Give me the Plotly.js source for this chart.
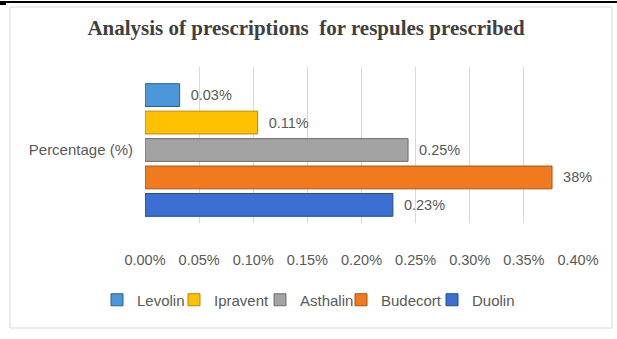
<!DOCTYPE html>
<html>
<head>
<meta charset="utf-8">
<script src="https://cdn.plot.ly/plotly-3.0.1.min.js"></script>
<style>html,body{margin:0;padding:0;background:#fff;}#chart{width:617px;height:339px;}</style>
</head>
<body>
<div id="chart"></div>
<script>
// Data (legend order)
const category = ["Percentage (%)"];
const seriesNames = ["Levolin", "Ipravent", "Asthalin", "Budecort", "Duolin"];
const seriesValues = [0.032, 0.104, 0.243, 0.376, 0.229];
const seriesLabels = ["0.03%", "0.11%", "0.25%", "38%", "0.23%"];
const xTickValues = [0, 0.05, 0.10, 0.15, 0.20, 0.25, 0.30, 0.35, 0.40];
const xTickLabels = ["0.00%", "0.05%", "0.10%", "0.15%", "0.20%", "0.25%", "0.30%", "0.35%", "0.40%"];

// Styling
const fills = ["#4b97da", "#ffc000", "#a3a3a3", "#f07b1f", "#3c6fd2"];
const edges = ["#2a5f95", "#b88a00", "#6e6e6e", "#a8520f", "#234a94"];
const legendLeft = [97, 174, 260, 341, 432]; // px position of each legend entry
const legendIds = ["legend", "legend2", "legend3", "legend4", "legend5"];

const FONT = "Liberation Sans, Arial, sans-serif";

// Plotly draws horizontal grouped bars bottom-up, so add traces in reverse
const traces = [];
for (let i = seriesNames.length - 1; i >= 0; i--) {
  traces.push({
    type: "bar",
    orientation: "h",
    name: seriesNames[i],
    legend: legendIds[i],
    y: category,
    x: [seriesValues[i]],
    text: [seriesLabels[i]],
    texttemplate: "  %{text}",
    textposition: "outside",
    cliponaxis: false,
    textfont: {family: FONT, size: 14.5, color: "#595959"},
    marker: {color: fills[i], line: {color: edges[i], width: 1}},
    hoverinfo: "skip"
  });
}

const L = 145, R = 39, T = 67, B = 116;
const W = 617 - L - R, H = 339 - T - B;
const pxX = x => (x - L) / W;
const pxY = y => (339 - B - y) / H;

const layout = {
  width: 617, height: 339,
  margin: {l: L, r: R, t: T, b: B, pad: 0},
  paper_bgcolor: "#ffffff",
  plot_bgcolor: "#ffffff",
  barmode: "group",
  bargap: 0.12,
  bargroupgap: 0.17,
  showlegend: true,
  title: {
    text: "<b>Analysis of prescriptions  for respules prescribed</b>",
    font: {family: "Liberation Serif, Times New Roman, serif", size: 21, color: "#404040"},
    x: 306/617, xref: "container", xanchor: "center",
    y: 1 - 28/339, yref: "container", yanchor: "middle"
  },
  xaxis: {
    range: [0, 0.40],
    tickvals: xTickValues,
    ticktext: xTickLabels,
    showgrid: true,
    gridcolor: "#d9d9d9",
    gridwidth: 1,
    zeroline: false,
    showline: false,
    ticks: "",
    ticklabelstandoff: 26,
    tickfont: {family: FONT, size: 14.5, color: "#595959"},
    fixedrange: true
  },
  yaxis: {
    type: "category",
    range: [-0.468, 0.532],
    showgrid: false,
    zeroline: false,
    showline: false,
    ticks: "",
    ticklabelstandoff: 11,
    tickfont: {family: FONT, size: 15, color: "#595959"},
    fixedrange: true
  },
  shapes: [
    {type: "rect", xref: "paper", yref: "paper",
     x0: pxX(10), x1: pxX(612), y0: pxY(328), y1: pxY(7),
     line: {color: "#d9d9d9", width: 1}, fillcolor: "rgba(0,0,0,0)", layer: "below"},
    {type: "line", xref: "paper", yref: "paper",
     x0: pxX(0), x1: pxX(617), y0: pxY(2), y1: pxY(2),
     line: {color: "#000000", width: 2}},
    {type: "line", xref: "paper", yref: "paper",
     x0: pxX(0), x1: pxX(6), y0: pxY(3), y1: pxY(3),
     line: {color: "#000000", width: 4}}
  ]
};

legendIds.forEach((id, i) => {
  layout[id] = {
    orientation: "h",
    x: legendLeft[i] / 617, xanchor: "left", xref: "container",
    y: 1 - 300/339, yanchor: "middle", yref: "container",
    font: {family: FONT, size: 15, color: "#595959"},
    itemwidth: 30,
    bgcolor: "rgba(0,0,0,0)"
  };
});

Plotly.newPlot("chart", traces, layout, {displayModeBar: false, staticPlot: true});
</script>
</body>
</html>
